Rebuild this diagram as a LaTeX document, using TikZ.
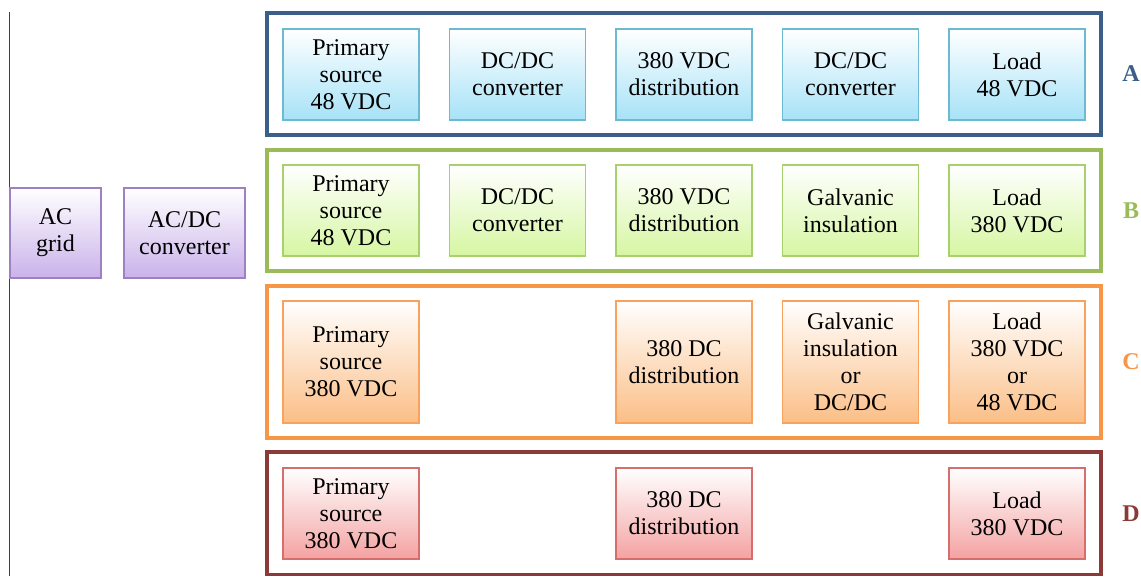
\documentclass[tikz,border=0pt]{standalone}
\usepackage{fontspec}
\setmainfont{Liberation Serif}
\definecolor{frA}{HTML}{3A5F8A}
\definecolor{frB}{HTML}{9BBB59}
\definecolor{frC}{HTML}{F79646}
\definecolor{frD}{HTML}{8C3A38}
\definecolor{bdA}{HTML}{6CB9D2}
\definecolor{fiA}{HTML}{A6E2F7}
\definecolor{bdB}{HTML}{A8D06C}
\definecolor{fiB}{HTML}{D6F6A2}
\definecolor{bdC}{HTML}{F9A25E}
\definecolor{fiC}{HTML}{FBBE86}
\definecolor{bdD}{HTML}{D66E6C}
\definecolor{fiD}{HTML}{F4A2A2}
\definecolor{bdP}{HTML}{9C82C2}
\definecolor{fiP}{HTML}{C9B2EA}
\tikzset{
  cbox/.style={draw=bd#1, line width=0.9pt, top color=white, bottom color=fi#1,
    minimum width=102pt, minimum height=68.25pt, inner sep=0pt, align=center,
    font=\fontsize{18}{20.25}\selectfont, text=black},
  tall/.style={minimum height=91.5pt},
  frame/.style={draw=#1, line width=2.3pt},
  tag/.style={text=#1, font=\fontsize{18}{20}\selectfont\bfseries}
}
\begin{document}
\begin{tikzpicture}[x=0.75pt,y=-0.75pt]
\useasboundingbox (0,0) rectangle (1141,576);
% left vertical line
\coordinate (lt) at (9.5,12);
\coordinate (lb) at (9.5,576);
\draw[line width=0.8pt, black!75] (lt) -- (lb);
% purple boxes
\node[cbox=P, minimum width=68.25pt, minimum height=67.5pt] (grid) at (55.5,233) {AC\\grid};
\node[cbox=P, minimum width=90.75pt, minimum height=67.5pt] (acdc) at (184.5,233) {AC/DC\\converter};
% frames
\draw[frame=frA] (267,13) rectangle (1101,135);
\draw[frame=frB] (267,150) rectangle (1101,271);
\draw[frame=frC] (267,286) rectangle (1101,438);
\draw[frame=frD] (267,452) rectangle (1101,574.5);
% row A
\node[cbox=A] (a1) at (351,74.5) {Primary\\source\\48 VDC};
\node[cbox=A] (a2) at (517.5,74.5) {DC/DC\\converter};
\node[cbox=A] (a3) at (684,74.5) {380 VDC\\distribution};
\node[cbox=A] (a4) at (850.5,74.5) {DC/DC\\converter};
\node[cbox=A] (a5) at (1017,74.5) {Load\\48 VDC};
% row B
\node[cbox=B] (b1) at (351,210.5) {Primary\\source\\48 VDC};
\node[cbox=B] (b2) at (517.5,210.5) {DC/DC\\converter};
\node[cbox=B] (b3) at (684,210.5) {380 VDC\\distribution};
\node[cbox=B] (b4) at (850.5,210.5) {Galvanic\\insulation};
\node[cbox=B] (b5) at (1017,210.5) {Load\\380 VDC};
% row C
\node[cbox=C, tall] (c1) at (351,362) {Primary\\source\\380 VDC};
\node[cbox=C, tall] (c3) at (684,362) {380 DC\\distribution};
\node[cbox=C, tall] (c4) at (850.5,362) {Galvanic\\insulation\\or\\DC/DC};
\node[cbox=C, tall] (c5) at (1017,362) {Load\\380 VDC\\or\\48 VDC};
% row D
\node[cbox=D] (d1) at (351,513.5) {Primary\\source\\380 VDC};
\node[cbox=D] (d3) at (684,513.5) {380 DC\\distribution};
\node[cbox=D] (d5) at (1017,513.5) {Load\\380 VDC};
% labels
\node[tag=frA] (lA) at (1131,74) {A};
\node[tag=frB] (lB) at (1131,211) {B};
\node[tag=frC] (lC) at (1131,362) {C};
\node[tag=frD] (lD) at (1131,514) {D};
\end{tikzpicture}
\end{document}
